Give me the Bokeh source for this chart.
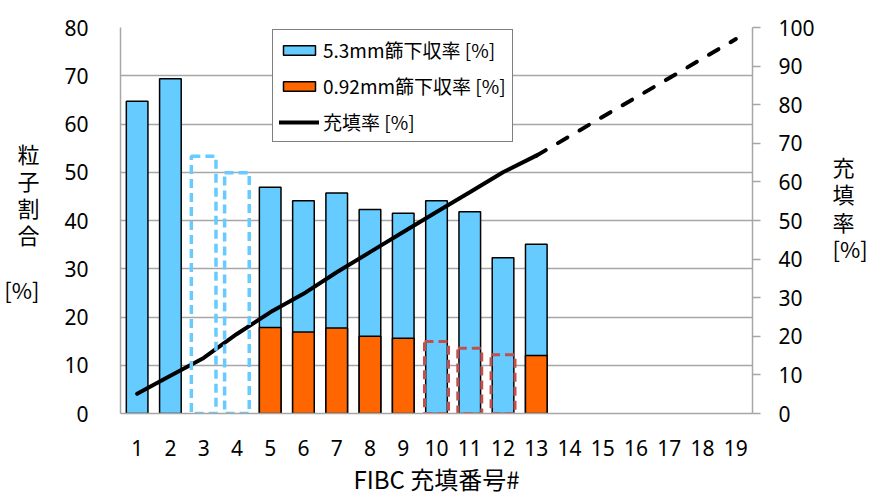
from bokeh.plotting import figure
from bokeh.models import Range1d, LinearAxis, FixedTicker, Legend, LegendItem
from bokeh.embed import file_html
from bokeh.resources import INLINE

# ---- data ----
fibc_no = list(range(1, 20))
bar_no = list(range(1, 14))
pass_53 = [64.7, 69.4, None, None, 46.9, 44.1, 45.7, 42.3, 41.5, 44.1, 41.8, 32.3, 35.1]
pass_092 = [None, None, None, None, 17.8, 16.9, 17.7, 16.0, 15.6, None, None, None, 12.0]
fill_rate = [5.1, 9.8, 14.4, 20.6, 26.2, 31.0, 36.6, 41.8, 47.0, 52.2, 57.3, 62.5, 66.8]
proj_no = [13, 14, 15, 16, 17, 18, 19]
fill_rate_proj = [66.8, 71.8, 76.9, 81.9, 86.9, 92.0, 97.0]
missing_53_no = [3, 4]
missing_53_est = [53.3, 49.9]
missing_092_no = [10, 11, 12]
missing_092_est = [14.9, 13.5, 12.2]
left_ticks = [0, 10, 20, 30, 40, 50, 60, 70, 80]
right_ticks = [0, 10, 20, 30, 40, 50, 60, 70, 80, 90, 100]
legend_labels = ["5.3mm篩下収率 [%]", "0.92mm篩下収率 [%]", "充填率 [%]"]
left_title = "粒\n子\n割\n合\n\n[%]"
right_title = "充\n填\n率\n[%]\n "
bottom_title = "FIBC 充填番号#"

BLUE = "#66CCFF"
ORANGE = "#FF6600"
GRID = "#A6A6A6"
RED = "#C0504D"
NUM_FONT = "Noto Sans"
CJK_FONT = "Noto Sans CJK JP"

p = figure(width=870, height=500, output_backend="svg", toolbar_location=None,
           x_range=Range1d(0.5, 19.5), y_range=Range1d(0, 80),
           min_border_left=120, min_border_right=110, min_border_top=27, min_border_bottom=87)
p.extra_y_ranges = {"fill": Range1d(0, 100)}
p.outline_line_color = None
p.background_fill_color = "white"
p.border_fill_color = "white"

# grids
p.xgrid.grid_line_color = None
p.ygrid.ticker = FixedTicker(ticks=left_ticks)
p.ygrid.grid_line_color = GRID
p.ygrid.grid_line_width = 1.5

# bottom axis
xa = p.xaxis[0]
xa.ticker = FixedTicker(ticks=fibc_no)
xa.axis_line_color = GRID
xa.axis_line_width = 1.5
xa.major_tick_line_color = None
xa.minor_tick_line_color = None
xa.major_label_text_font = NUM_FONT
xa.major_label_text_font_size = "21px"
xa.major_label_text_color = "black"
xa.major_label_standoff = 20
xa.axis_label = bottom_title
xa.axis_label_text_font = CJK_FONT
xa.axis_label_text_font_size = "24px"
xa.axis_label_text_font_style = "normal"
xa.axis_label_text_color = "black"
xa.axis_label_standoff = 2

# left axis
ya = p.yaxis[0]
ya.ticker = FixedTicker(ticks=left_ticks)
ya.axis_line_color = GRID
ya.axis_line_width = 1.5
ya.major_tick_line_color = None
ya.minor_tick_line_color = None
ya.major_label_text_font = NUM_FONT
ya.major_label_text_font_size = "21px"
ya.major_label_text_color = "black"
ya.major_label_standoff = 26
ya.axis_label = left_title
ya.axis_label_orientation = "horizontal"
ya.axis_label_text_font = CJK_FONT
ya.axis_label_text_font_size = "22px"
ya.axis_label_text_font_style = "normal"
ya.axis_label_text_color = "black"
ya.axis_label_text_align = "center"
ya.axis_label_text_line_height = 0.85
ya.axis_label_standoff = 22

# right axis
ra = LinearAxis(y_range_name="fill", ticker=FixedTicker(ticks=right_ticks))
ra.axis_line_color = GRID
ra.axis_line_width = 1.5
ra.major_tick_line_color = GRID
ra.major_tick_line_width = 1.5
ra.major_tick_out = 8
ra.major_tick_in = 0
ra.minor_tick_line_color = None
ra.major_label_text_font = NUM_FONT
ra.major_label_text_font_size = "21px"
ra.major_label_text_color = "black"
ra.major_label_standoff = 18
ra.axis_label = right_title
ra.axis_label_orientation = "horizontal"
ra.axis_label_text_font = CJK_FONT
ra.axis_label_text_font_size = "22px"
ra.axis_label_text_font_style = "normal"
ra.axis_label_text_color = "black"
ra.axis_label_text_align = "center"
ra.axis_label_text_line_height = 0.85
ra.axis_label_standoff = 15
p.add_layout(ra, "right")

# bars
b53_x = [x for x, v in zip(bar_no, pass_53) if v is not None]
b53_v = [v for v in pass_53 if v is not None]
b092_x = [x for x, v in zip(bar_no, pass_092) if v is not None]
b092_v = [v for v in pass_092 if v is not None]

r53 = p.vbar(x=b53_x, top=b53_v, bottom=0, width=0.65, fill_color=BLUE,
             line_color="black", line_width=1.5)
r092 = p.vbar(x=b092_x, top=b092_v, bottom=0, width=0.65, fill_color=ORANGE,
              line_color="black", line_width=1.5)

# missing 0.92mm (red dashed)
p.vbar(x=missing_092_no, top=missing_092_est, bottom=0, width=0.72, fill_color=None,
       line_color=RED, line_width=3, line_dash="9 5")

# filling rate line
rline = p.line(x=bar_no, y=fill_rate, y_range_name="fill", line_color="black",
               line_width=4, line_cap="round")
p.line(x=proj_no, y=fill_rate_proj, y_range_name="fill", line_color="black",
       line_width=4, line_cap="round", line_dash="11 14")

# missing 5.3mm (blue dashed)
p.vbar(x=missing_53_no, top=missing_53_est, bottom=0, width=0.74, fill_color=None,
       line_color=BLUE, line_width=3.5, line_dash="9 5")

legend = Legend(items=[LegendItem(label=legend_labels[0], renderers=[r53]),
                       LegendItem(label=legend_labels[1], renderers=[r092]),
                       LegendItem(label=legend_labels[2], renderers=[rline])],
                location=(152, 271))
legend.label_text_font = CJK_FONT
legend.label_text_font_size = "19px"
legend.label_text_color = "black"
legend.glyph_width = 40
legend.glyph_height = 12
legend.label_height = 22
legend.label_standoff = 4
legend.spacing = 9
legend.padding = 6
legend.margin = 0
legend.border_line_color = "black"
legend.border_line_width = 1.5
legend.background_fill_alpha = 1.0
p.add_layout(legend, "center")

open("out.html", "w").write(file_html(p, INLINE))
